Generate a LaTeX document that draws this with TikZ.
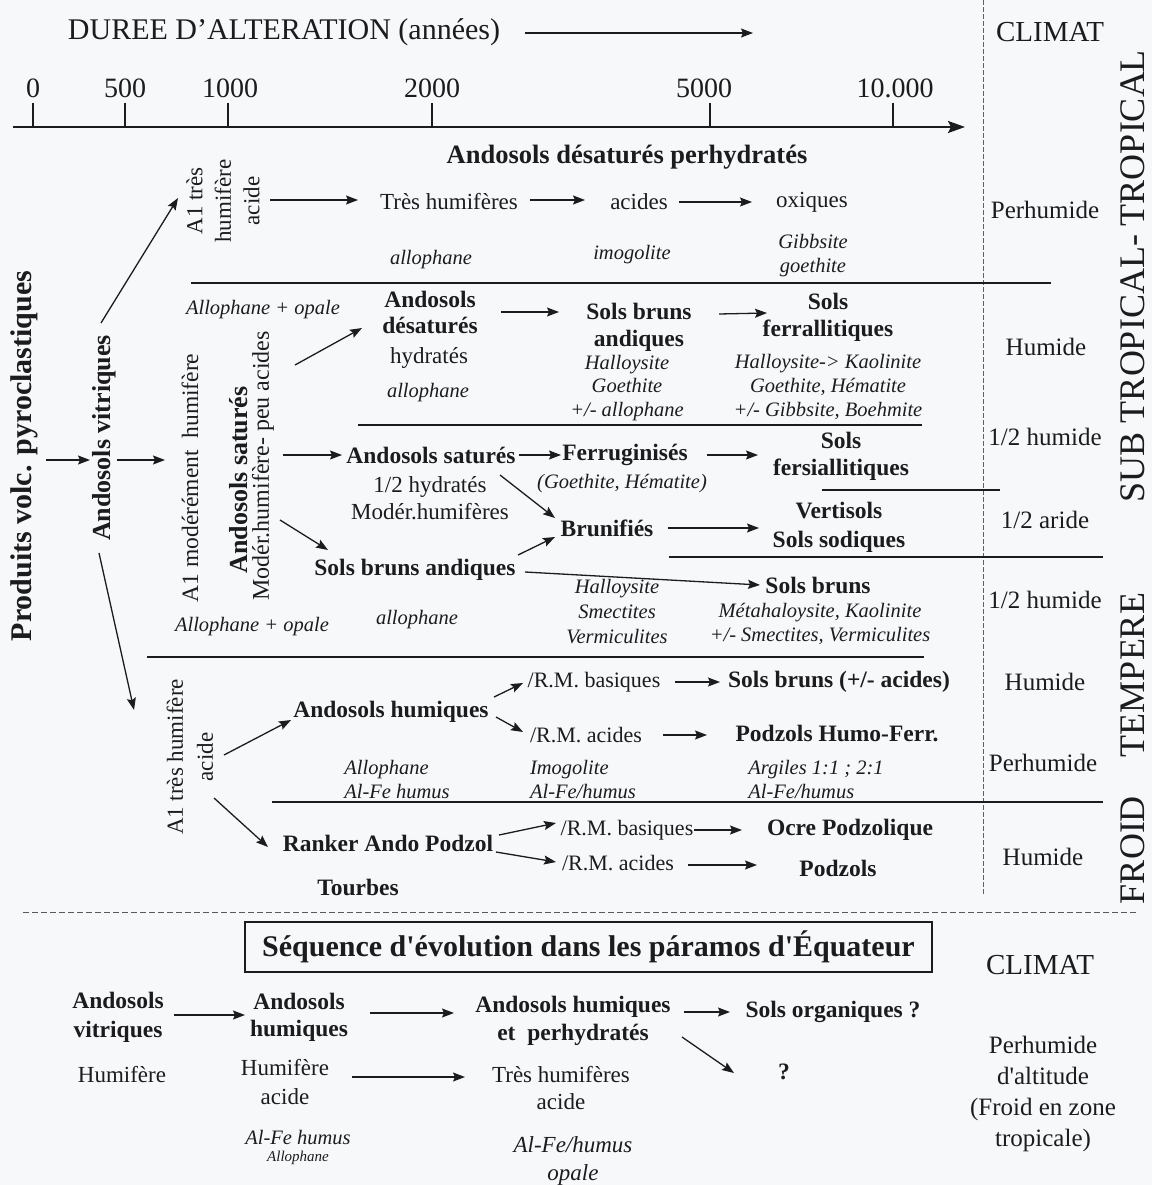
\documentclass[tikz,border=0pt]{standalone}
\usepackage{fontspec}
\setmainfont{Liberation Serif}
\usetikzlibrary{arrows.meta}
\definecolor{ink}{RGB}{28,28,30}
\definecolor{bgc}{RGB}{247,248,250}
\begin{document}
\begin{tikzpicture}[x=1pt,y=-1pt,
 base/.style={inner sep=0pt, outer sep=0pt, align=center, text=ink},
 rg/.style={base, font=\fontsize{23}{#1}\selectfont}, rg/.default=27,
 bd/.style={base, font=\fontsize{23.5}{#1}\selectfont\bfseries}, bd/.default=27,
 it/.style={base, font=\fontsize{20.5}{#1}\selectfont\itshape}, it/.default=24,
 cl/.style={base, font=\fontsize{25}{#1}\selectfont}, cl/.default=31,
 zone/.style={base, rotate=90, font=\fontsize{36}{38}\selectfont},
 ar/.style={draw=ink, line width=1.3pt, -{Stealth[length=12pt,width=9pt,inset=2pt]}},
 sep/.style={draw=ink, line width=1.3pt},
]
\useasboundingbox (0,0) rectangle (1152,1185);
\fill[bgc] (0,0) rectangle (1152,1185);

% ---------- header ----------
\node[base, font=\fontsize{30}{32}\selectfont] (dur) at (284,32) {DUREE D’ALTERATION (années)};
\coordinate (durend) at (753,33);
\draw[ar] ([shift={(241,1)}]dur.center) -- (durend);
\node[base, font=\fontsize{29}{31}\selectfont] (clim1) at (1050,32) {CLIMAT};

\node[base, font=\fontsize{28}{30}\selectfont] (t0) at (33,88) {0};
\node[base, font=\fontsize{28}{30}\selectfont] (t500) at (125,88) {500};
\node[base, font=\fontsize{28}{30}\selectfont] (t1000) at (230,88) {1000};
\node[base, font=\fontsize{28}{30}\selectfont] (t2000) at (432,88) {2000};
\node[base, font=\fontsize{28}{30}\selectfont] (t5000) at (704,88) {5000};
\node[base, font=\fontsize{28}{30}\selectfont] (t10) at (895,88) {10.000};
\foreach \x in {33,125,228,432,710,893} \draw[ink, line width=1.2pt] (\x,103) -- (\x,127);
\coordinate (ax0) at (13,127);
\coordinate (ax1) at (965,127);
\draw[draw=ink, line width=2.4pt, -{Stealth[length=17pt,width=12pt,inset=3pt]}] (ax0) -- (ax1);

\draw[gray!75!black, line width=0.8pt, dash pattern=on 5pt off 2pt] (983,0) -- (983,895);

% ---------- zones ----------
\node[zone] (zst) at (1133,276) {SUB TROPICAL- TROPICAL};
\node[zone] (ztemp) at (1133,675) {TEMPERE};
\node[zone] (zfroid) at (1133,850) {FROID};

% ---------- left vertical ----------
\node[base, rotate=90, font=\fontsize{30}{32}\selectfont\bfseries] (pvp) at (24,456) {Produits volc. pyroclastiques};
\node[base, rotate=90, font=\fontsize{26}{28}\selectfont\bfseries] (avit) at (104,438) {Andosols vitriques};
\node[base, rotate=90, font=\fontsize{23.5}{26}\selectfont] (a1m) at (190,478) {A1 modérément\enspace humifère};
\node[base, rotate=90, font=\fontsize{26}{28}\selectfont\bfseries] (asat) at (239,480) {Andosols saturés};
\node[base, rotate=90, font=\fontsize{24}{26}\selectfont] (mod) at (263,466) {Modér.humifère- peu acides};
\node[base, rotate=90, font=\fontsize{23}{28.5}\selectfont] (a1a) at (223,201) {A1 très\\humifère\\acide};
\node[base, rotate=90, font=\fontsize{23}{30}\selectfont] (a1t) at (190,757) {A1 très humifère\\acide};

\draw[ar] ([shift={(22,4)}]pvp.center) -- ([shift={(-14,22)}]avit.center);
\draw[ar] ([shift={(13,22)}]avit.center) -- ([shift={(-25,-18)}]a1m.center);
\draw[ar] ([shift={(-3,-115)}]avit.center) -- ([shift={(-45,-3)}]a1a.center);
\draw[ar] ([shift={(-5,115)}]avit.center) -- ([shift={(-56,-47)}]a1t.center);

% ---------- row Perhumide ----------
\node[base, font=\fontsize{26.5}{28}\selectfont\bfseries] (hdr) at (627,157) {Andosols désaturés perhydratés};
\node[rg] (th) at (449,202) {Très humifères};
\node[rg] (ac) at (639,202) {acides};
\node[rg] (ox) at (812,202) {oxiques};
\node[cl] (perh1) at (1045,210) {Perhumide};
\node[it] (allo1) at (431,260) {allophane};
\node[it] (imo1) at (632,255) {imogolite};
\node[it=24] (gib) at (813,256) {Gibbsite\\goethite};
\draw[ar] ([shift={(47,-1)}]a1a.center) -- ([shift={(-91,-2)}]th.center);
\draw[ar] ([shift={(81,-2)}]th.center) -- ([shift={(-54,-2)}]ac.center);
\draw[ar] ([shift={(40,0)}]ac.center) -- ([shift={(-60,0)}]ox.center);
\draw[sep] (191,283) -- (1051,283);

% ---------- row Humide ----------
\node[it] (ao1) at (263,310) {Allophane + opale};
\node[bd=26] (ad) at (430,312) {Andosols\\désaturés};
\node[rg] (hyd) at (429,358) {hydratés};
\node[it] (allo2) at (428,393) {allophane};
\node[bd=27] (sba) at (639,327) {Sols bruns\\andiques};
\node[it=23.5] (hal1) at (627,388) {Halloysite\\Goethite\\+/- allophane};
\node[bd=27] (sf) at (828,317) {Sols\\ferrallitiques};
\node[it=24] (hal2) at (828,387) {Halloysite-> Kaolinite\\Goethite, Hématite\\+/- Gibbsite, Boehmite};
\node[cl] (hum1) at (1046,347) {Humide};
\draw[ar] ([shift={(32,-101)}]mod.center) -- ([shift={(-68,16)}]ad.center);
\draw[ar] ([shift={(71,0)}]ad.center) -- ([shift={(-80,-15)}]sba.center);
\draw[ar] ([shift={(80,-13)}]sba.center) -- ([shift={(-61,-4)}]sf.center);
\draw[sep] (358,425) -- (922,425);

% ---------- rows 1/2 humide, 1/2 aride ----------
\node[bd] (as2) at (431,455) {Andosols saturés};
\node[rg=27] (hyd2) at (430,498) {1/2 hydratés\\Modér.humifères};
\node[bd] (fer) at (625,455) {Ferruginisés};
\node[it] (goe) at (622,484) {(Goethite, Hématite)};
\node[bd=27] (sfs) at (841,456) {Sols\\fersiallitiques};
\node[cl] (hum2) at (1045,437) {1/2 humide};
\draw[sep] (822,490) -- (1000,490);
\node[bd] (brun) at (607,528) {Brunifiés};
\node[bd=29] (vert) at (839,527) {Vertisols\\Sols sodiques};
\node[cl] (arid) at (1045,520) {1/2 aride};
\draw[sep] (669,557) -- (1103,557);
\node[bd] (sbaa) at (415,570) {Sols bruns andiques};
\node[it=25] (hal3) at (617,612) {Halloysite\\Smectites\\Vermiculites};
\node[bd] (sbr) at (818,585) {Sols bruns};
\node[it=24] (met) at (820,624) {Métahaloysite, Kaolinite\\+/- Smectites, Vermiculites};
\node[cl] (hum3) at (1045,600) {1/2 humide};
\node[it] (ao2) at (252,627) {Allophane + opale};
\node[it] (allo3) at (417,620) {allophane};

\draw[ar] ([shift={(20,-11)}]mod.center) -- ([shift={(-89,0)}]as2.center);
\draw[ar] ([shift={(88,0)}]as2.center) -- ([shift={(-64,0)}]fer.center);
\draw[ar] ([shift={(82,0)}]fer.center) -- ([shift={(-83,-1)}]sfs.center);
\draw[ar] ([shift={(69,20)}]as2.center) -- ([shift={(-52,-10)}]brun.center);
\draw[ar] ([shift={(17,54)}]mod.center) -- ([shift={(-87,-20)}]sbaa.center);
\draw[ar] ([shift={(103,-15)}]sbaa.center) -- ([shift={(-52,9)}]brun.center);
\draw[ar] ([shift={(61,0)}]brun.center) -- ([shift={(-80,1)}]vert.center);
\draw[ar] ([shift={(110,2)}]sbaa.center) -- ([shift={(-58,0)}]sbr.center);
\draw[sep] (147,657) -- (924,657);

% ---------- TEMPERE humide / perhumide ----------
\node[bd] (ah) at (391,712) {Andosols humiques};
\node[base, font=\fontsize{22}{24}\selectfont] (rmb1) at (594,682) {/R.M. basiques};
\node[bd] (sbr2) at (839,682) {Sols bruns (+/- acides)};
\node[cl] (hum4) at (1045,682) {Humide};
\node[base, font=\fontsize{22}{24}\selectfont] (rma1) at (586,735) {/R.M. acides};
\node[bd] (phf) at (837,734) {Podzols Humo-Ferr.};
\node[cl] (perh2) at (1043,763) {Perhumide};
\node[it=24, align=left] (allo4) at (397,779) {Allophane\\Al-Fe humus};
\node[it=24, align=left] (imo2) at (583,779) {Imogolite\\Al-Fe/humus};
\node[it=24, align=left] (arg) at (816,779) {Argiles 1:1 ; 2:1\\Al-Fe/humus};
\draw[ar] ([shift={(34,-2)}]a1t.center) -- ([shift={(-100,8)}]ah.center);
\draw[ar] ([shift={(103,-15)}]ah.center) -- ([shift={(-71,1)}]rmb1.center);
\draw[ar] ([shift={(81,0)}]rmb1.center) -- ([shift={(-119,0)}]sbr2.center);
\draw[ar] ([shift={(105,5)}]ah.center) -- ([shift={(-63,-3)}]rma1.center);
\draw[ar] ([shift={(77,0)}]rma1.center) -- ([shift={(-130,1)}]phf.center);
\draw[sep] (272,802) -- (1103,802);

% ---------- FROID ----------
\node[bd] (rap) at (388,843) {Ranker Ando Podzol};
\node[base, font=\fontsize{22}{24}\selectfont] (rmb2) at (627,830) {/R.M. basiques};
\node[bd] (ocre) at (850,830) {Ocre Podzolique};
\node[base, font=\fontsize{22}{24}\selectfont] (rma2) at (618,863) {/R.M. acides};
\node[bd] (podz) at (838,868) {Podzols};
\node[cl] (hum5) at (1043,857) {Humide};
\node[bd] (tour) at (358,887) {Tourbes};
\draw[ar] ([shift={(24,41)}]a1t.center) -- ([shift={(-120,4)}]rap.center);
\draw[ar] ([shift={(111,-8)}]rap.center) -- ([shift={(-71,-7)}]rmb2.center);
\draw[ar] ([shift={(67,0)}]rmb2.center) -- ([shift={(-108,0)}]ocre.center);
\draw[ar] ([shift={(108,9)}]rap.center) -- ([shift={(-62,-1)}]rma2.center);
\draw[ar] ([shift={(70,2)}]rma2.center) -- ([shift={(-81,-3)}]podz.center);

% ---------- bottom section ----------
\draw[gray!70!black, line width=1pt, dash pattern=on 6pt off 3pt] (23,912) -- (1138,912);
\node[draw=ink, line width=1.2pt, minimum width=687pt, minimum height=50pt, inner sep=0pt, text=ink,
      font=\fontsize{30}{32}\selectfont\bfseries] (seq) at (588.5,947)
      {Séquence d\textquotesingle évolution dans les páramos d\textquotesingle Équateur};
\node[base, font=\fontsize{29}{31}\selectfont] (clim2) at (1040,965) {CLIMAT};

\node[bd=29] (bav) at (118,1017) {Andosols\\vitriques};
\node[rg] (bhum1) at (122,1075) {Humifère};
\node[bd=27] (bah) at (299,1017) {Andosols\\humiques};
\node[bd=28] (bahp) at (573,1021) {Andosols humiques\\et\enspace perhydratés};
\node[bd] (bso) at (833,1012) {Sols organiques ?};
\node[bd] (bq) at (784,1072) {?};
\node[rg=29] (bhum2) at (285,1082) {Humifère\\acide};
\node[rg=27] (bth) at (561,1088) {Très humifères\\acide};
\node[it] (balfe) at (298,1137) {Al-Fe humus};
\node[base, font=\fontsize{15}{17}\selectfont\itshape] (ballo) at (298,1158) {Allophane};
\node[base, font=\fontsize{23}{28}\selectfont\itshape] (balfe2) at (573,1161) {Al-Fe/humus\\opale};
\node[cl=31] (bperh) at (1043,1094) {Perhumide\\d\textquotesingle altitude\\(Froid en zone\\tropicale)};

\draw[ar] ([shift={(56,-2)}]bav.center) -- ([shift={(-54,-2)}]bah.center);
\draw[ar] ([shift={(71,-4)}]bah.center) -- ([shift={(-119,-8)}]bahp.center);
\draw[ar] ([shift={(111,-9)}]bahp.center) -- ([shift={(-103,0)}]bso.center);
\draw[ar] ([shift={(109,16)}]bahp.center) -- ([shift={(-50,1)}]bq.center);
\draw[ar] ([shift={(67,-5)}]bhum2.center) -- ([shift={(-96,-11)}]bth.center);
\end{tikzpicture}
\end{document}
